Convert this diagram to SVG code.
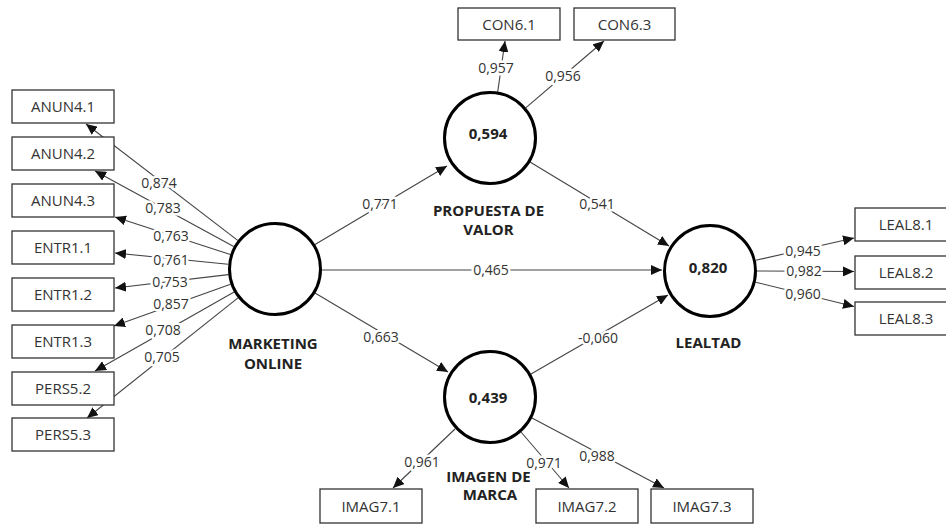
<svg xmlns="http://www.w3.org/2000/svg" width="946" height="525" viewBox="0 0 946 525">
<style>
.box{fill:#fff;stroke:#333;stroke-width:1.3}
.bt{font-family:"Open Sans","Noto Sans",sans-serif;font-size:15px;fill:#333;text-anchor:middle}
.lv{fill:#fff;stroke:#000;stroke-width:3}
.lt{font-family:"Open Sans","Noto Sans",sans-serif;font-size:15px;font-weight:bold;fill:#222;text-anchor:middle}
.c{stroke:#444;stroke-width:1.1;fill:none;marker-end:url(#ah)}
.n{font-family:"Open Sans","Noto Sans",sans-serif;font-size:14px;fill:#333;text-anchor:middle;stroke:#fff;stroke-width:5;paint-order:stroke;stroke-linejoin:round}
</style>
<defs>
<marker id="ah" markerUnits="userSpaceOnUse" markerWidth="12" markerHeight="10" refX="11" refY="5" orient="auto">
<path d="M0,0 L11,5 L0,10 z" fill="#111"/>
</marker>
</defs>
<rect width="946" height="525" fill="#fff"/>
<g id="connectors">
<line class="c" x1="237.7" y1="240.4" x2="86" y2="124"/>
<line class="c" x1="233.7" y1="246.5" x2="95" y2="171"/>
<line class="c" x1="230.3" y1="254.5" x2="115" y2="217"/>
<line class="c" x1="228.2" y1="264.3" x2="115" y2="253"/>
<line class="c" x1="228.3" y1="274.6" x2="115" y2="288"/>
<line class="c" x1="230.5" y1="284.2" x2="114" y2="326"/>
<line class="c" x1="234.1" y1="292.1" x2="95" y2="371"/>
<line class="c" x1="238" y1="297.9" x2="87" y2="418"/>
<line class="c" x1="497.6" y1="92.6" x2="505" y2="41"/>
<line class="c" x1="526" y1="107.6" x2="604" y2="41"/>
<line class="c" x1="315" y1="244.5" x2="447" y2="166"/>
<line class="c" x1="315" y1="293" x2="448" y2="372"/>
<line class="c" x1="322" y1="270" x2="662" y2="270"/>
<line class="c" x1="530" y1="162" x2="669" y2="246"/>
<line class="c" x1="531" y1="374" x2="668" y2="295"/>
<line class="c" x1="755.8" y1="260.3" x2="854" y2="238"/>
<line class="c" x1="757" y1="271" x2="854" y2="271.5"/>
<line class="c" x1="755.6" y1="282.2" x2="854" y2="306.5"/>
<line class="c" x1="455" y1="429" x2="393" y2="488"/>
<line class="c" x1="521" y1="432" x2="569" y2="488"/>
<line class="c" x1="532" y1="418" x2="664" y2="488"/>
</g>
<g id="ANUN4.1"><rect class="box" x="12" y="90" width="102" height="33"/><text class="bt" x="63" y="112">ANUN4.1</text></g>
<g id="ANUN4.2"><rect class="box" x="12" y="137" width="102" height="33"/><text class="bt" x="63" y="159">ANUN4.2</text></g>
<g id="ANUN4.3"><rect class="box" x="12" y="184" width="102" height="33"/><text class="bt" x="63" y="206">ANUN4.3</text></g>
<g id="ENTR1.1"><rect class="box" x="12" y="231" width="102" height="33"/><text class="bt" x="63" y="253">ENTR1.1</text></g>
<g id="ENTR1.2"><rect class="box" x="12" y="278" width="102" height="33"/><text class="bt" x="63" y="300">ENTR1.2</text></g>
<g id="ENTR1.3"><rect class="box" x="12" y="325" width="102" height="33"/><text class="bt" x="63" y="347">ENTR1.3</text></g>
<g id="PERS5.2"><rect class="box" x="12" y="372" width="102" height="33"/><text class="bt" x="63" y="394">PERS5.2</text></g>
<g id="PERS5.3"><rect class="box" x="12" y="418" width="102" height="33"/><text class="bt" x="63" y="440">PERS5.3</text></g>
<g id="CON6.1"><rect class="box" x="458" y="8" width="102" height="32"/><text class="bt" x="509" y="29.5">CON6.1</text></g>
<g id="CON6.3"><rect class="box" x="574" y="8" width="101" height="32"/><text class="bt" x="624.5" y="29.5">CON6.3</text></g>
<g id="LEAL8.1"><rect class="box" x="855" y="208" width="102" height="33"/><text class="bt" x="906" y="230">LEAL8.1</text></g>
<g id="LEAL8.2"><rect class="box" x="855" y="256" width="102" height="33"/><text class="bt" x="906" y="278">LEAL8.2</text></g>
<g id="LEAL8.3"><rect class="box" x="855" y="302" width="102" height="33"/><text class="bt" x="906" y="324">LEAL8.3</text></g>
<g id="IMAG7.1"><rect class="box" x="320" y="489" width="102" height="34"/><text class="bt" x="371" y="511.5">IMAG7.1</text></g>
<g id="IMAG7.2"><rect class="box" x="536" y="489" width="102" height="34"/><text class="bt" x="587" y="511.5">IMAG7.2</text></g>
<g id="IMAG7.3"><rect class="box" x="651" y="489" width="102" height="34"/><text class="bt" x="702" y="511.5">IMAG7.3</text></g>
<g id="MARKETING_ONLINE"><circle class="lv" cx="275" cy="269" r="45.5"/><text class="lt" x="273" y="349">MARKETING</text><text class="lt" x="273" y="369">ONLINE</text></g>
<g id="PROPUESTA_DE_VALOR"><circle class="lv" cx="490" cy="138" r="45.5"/><text class="lt" x="488" y="138.5">0,594</text><text class="lt" x="488.5" y="216">PROPUESTA DE</text><text class="lt" x="488.5" y="235">VALOR</text></g>
<g id="IMAGEN_DE_MARCA"><circle class="lv" cx="490" cy="397" r="45.5"/><text class="lt" x="488" y="403">0,439</text><text class="lt" x="488.5" y="482">IMAGEN DE</text><text class="lt" x="490" y="500">MARCA</text></g>
<g id="LEALTAD"><circle class="lv" cx="710" cy="271" r="45.5"/><text class="lt" x="708" y="272.5">0,820</text><text class="lt" x="708.5" y="348">LEALTAD</text></g>
<g id="labels">
<text class="n" x="159" y="188">0,874</text>
<text class="n" x="163" y="213">0,783</text>
<text class="n" x="171" y="241">0,763</text>
<text class="n" x="171" y="265">0,761</text>
<text class="n" x="170" y="287">0,753</text>
<text class="n" x="171" y="309">0,857</text>
<text class="n" x="163" y="335">0,708</text>
<text class="n" x="162" y="362">0,705</text>
<text class="n" x="496" y="73">0,957</text>
<text class="n" x="563" y="81">0,956</text>
<text class="n" x="380" y="209">0,771</text>
<text class="n" x="597" y="209">0,541</text>
<text class="n" x="491" y="275">0,465</text>
<text class="n" x="381" y="342">0,663</text>
<text class="n" x="598" y="343">-0,060</text>
<text class="n" x="422" y="467">0,961</text>
<text class="n" x="544" y="468">0,971</text>
<text class="n" x="597" y="461">0,988</text>
<text class="n" x="803" y="256">0,945</text>
<text class="n" x="804" y="276">0,982</text>
<text class="n" x="803" y="299">0,960</text>
</g>
</svg>
